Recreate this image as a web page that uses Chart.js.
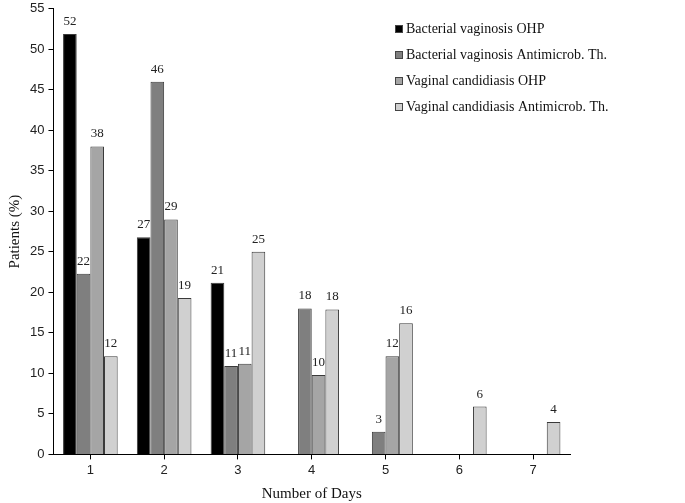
<!DOCTYPE html>
<html>
<head>
<meta charset="utf-8">
<script src="https://cdn.jsdelivr.net/npm/chart.js@4.4.1/dist/chart.umd.min.js"></script>
<style>
  html, body { margin: 0; padding: 0; background: #fff; overflow: hidden; }
  #wrap { width: 685px; height: 503px; overflow: hidden; }
  #myChart1 { display: block; margin-top: -3px; }
</style>
</head>
<body>
<div id="wrap"><canvas id="myChart1" width="685" height="506"></canvas></div>
<script>
const days = ["1", "2", "3", "4", "5", "6", "7"];
const bvOhp = [51.9, 26.8, 21.2, null, null, null, null];
const bvAnti = [22.3, 46, 10.9, 18, 2.8, null, null];
const vcOhp = [38, 29, 11.2, 9.8, 12.1, null, null];
const vcAnti = [12.1, 19.3, 25, 17.9, 16.2, 5.9, 4];
const seriesNames = [
  "Bacterial vaginosis OHP",
  "Bacterial vaginosis Antimicrob. Th.",
  "Vaginal candidiasis OHP",
  "Vaginal candidiasis Antimicrob. Th."
];
const seriesColors = ["#000000", "#7f7f7f", "#a5a5a5", "#d0d0d0"];

// value labels above the bars
const barLabels = {
  id: 'barLabels',
  afterDatasetsDraw(chart) {
    const ctx = chart.ctx;
    ctx.save();
    ctx.font = '13px "Liberation Serif"';
    ctx.fillStyle = '#222';
    ctx.textAlign = 'center';
    ctx.textBaseline = 'bottom';
    chart.data.datasets.forEach((ds, i) => {
      chart.getDatasetMeta(i).data.forEach((el, j) => {
        const v = ds.data[j];
        if (v == null) return;
        ctx.fillText(Math.round(v), el.x, el.y - 6);
      });
    });
    ctx.restore();
  }
};

// legend drawn in the top right corner
const boxLegend = {
  id: 'boxLegend',
  afterDraw(chart) {
    const ctx = chart.ctx;
    ctx.save();
    ctx.font = '14px "Liberation Serif"';
    ctx.textBaseline = 'middle';
    chart.data.datasets.forEach((ds, i) => {
      const y = 32 + i * 26;
      ctx.fillStyle = ds.backgroundColor;
      ctx.fillRect(395, y - 4, 8, 8);
      ctx.strokeStyle = '#444';
      ctx.lineWidth = 1;
      ctx.strokeRect(395.5, y - 3.5, 7, 7);
      ctx.fillStyle = '#111';
      ctx.fillText(ds.label, 406, y);
    });
    ctx.restore();
  }
};

const mkSet = (i, data) => ({
  label: seriesNames[i],
  data: data,
  backgroundColor: seriesColors[i],
  borderColor: '#3a3a3a',
  borderWidth: 1,
  categoryPercentage: 0.74,
  barPercentage: 1
});

new Chart(document.getElementById('myChart1').getContext('2d'), {
  type: 'bar',
  data: {
    labels: days,
    datasets: [mkSet(0, bvOhp), mkSet(1, bvAnti), mkSet(2, vcOhp), mkSet(3, vcAnti)]
  },
  options: {
    responsive: false,
    animation: false,
    layout: { padding: { top: 0, right: 115, left: 2, bottom: 0 } },
    plugins: {
      legend: { display: false },
      tooltip: { enabled: false }
    },
    scales: {
      x: {
        grid: { display: true, drawOnChartArea: false, drawTicks: true, tickLength: 5, color: '#000', offset: false },
        border: { color: '#000' },
        ticks: { color: '#222', font: { family: 'Liberation Sans', size: 13 }, padding: 3 },
        title: { display: true, text: 'Number of Days', color: '#111', font: { family: 'Liberation Serif', size: 15 }, padding: { top: 4, bottom: 0 } }
      },
      y: {
        min: 0,
        max: 55,
        ticks: { stepSize: 5, color: '#222', font: { family: 'Liberation Sans', size: 13 }, padding: 4 },
        grid: { display: true, drawOnChartArea: false, drawTicks: true, tickLength: 5, color: '#000' },
        border: { color: '#000' },
        title: { display: true, text: 'Patients (%)', color: '#111', font: { family: 'Liberation Serif', size: 15 }, padding: { bottom: 2 } }
      }
    }
  },
  plugins: [barLabels, boxLegend]
});
</script>
</body>
</html>
